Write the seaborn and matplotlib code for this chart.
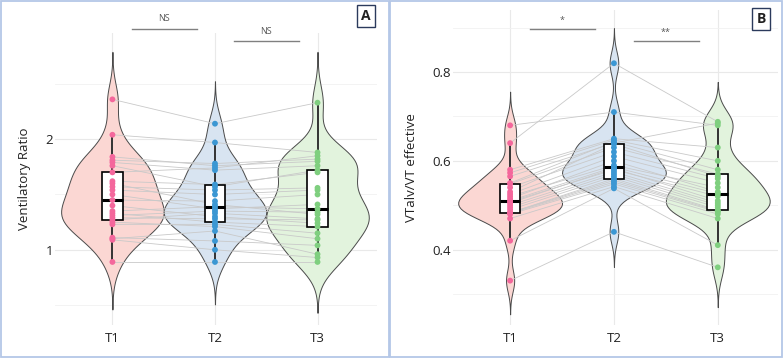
import numpy as np
import pandas as pd
import matplotlib
matplotlib.use("Agg")
import matplotlib.pyplot as plt
import seaborn as sns
from matplotlib.patches import Rectangle
from matplotlib.lines import Line2D

# time points
times = ["T1", "T2", "T3"]

# panel A: ventilatory ratio per subject (same index = same subject)
vr_t1 = [2.36, 2.04, 1.84, 1.81, 1.79, 1.76, 1.70, 1.62, 1.60, 1.57, 1.54, 1.50, 1.45,
         1.40, 1.35, 1.33, 1.31, 1.29, 1.27, 1.25, 1.23, 1.11, 1.10, 1.09, 0.89]
vr_t2 = [2.14, 1.97, 1.76, 1.78, 1.72, 1.57, 1.74, 1.59, 1.41, 1.54, 1.50, 1.37, 1.44,
         1.30, 1.39, 1.25, 1.35, 1.28, 1.33, 1.21, 1.23, 1.08, 1.17, 1.00, 0.89]
vr_t3 = [2.33, 1.88, 1.80, 1.82, 1.76, 1.72, 1.85, 1.70, 1.32, 1.56, 1.54, 1.41, 1.50,
         1.24, 1.37, 1.21, 1.34, 1.27, 1.28, 1.10, 1.15, 1.04, 0.96, 0.93, 0.89]

# panel B: VTalv/VT effective per subject
vt_t1 = [0.68, 0.64, 0.58, 0.573, 0.565, 0.55, 0.548, 0.54, 0.53, 0.525, 0.52, 0.515, 0.51,
         0.508, 0.505, 0.50, 0.495, 0.49, 0.483, 0.483, 0.482, 0.48, 0.47, 0.42, 0.33]
vt_t2 = [0.71, 0.82, 0.65, 0.647, 0.64, 0.643, 0.63, 0.62, 0.638, 0.61, 0.59, 0.60, 0.586,
         0.58, 0.583, 0.575, 0.57, 0.565, 0.56, 0.556, 0.552, 0.548, 0.542, 0.538, 0.44]
vt_t3 = [0.68, 0.688, 0.63, 0.60, 0.685, 0.58, 0.57, 0.56, 0.565, 0.55, 0.54, 0.53, 0.526,
         0.52, 0.51, 0.505, 0.50, 0.495, 0.489, 0.487, 0.485, 0.48, 0.47, 0.41, 0.36]

# significance labels between neighbouring time points
sig_a = ["NS", "NS"]
sig_b = ["*", "**"]

fill_colors = ["#fbd7d3", "#d8e4f1", "#e2f3dd"]
point_colors = ["#f4679c", "#3b97d3", "#7fcf7f"]
frame_color = "#b4c7e7"

plt.rcParams["font.family"] = ["Open Sans", "DejaVu Sans"]


def to_long(v1, v2, v3):
    rows = []
    for t, vals in zip(times, [v1, v2, v3]):
        for sid, v in enumerate(vals):
            rows.append({"subject": sid, "time": t, "value": v})
    return pd.DataFrame(rows)


def draw_panel(ax, df, bw_adjust, ylabel, major, minor, xlim, ylim, sig, sig_y):
    sns.violinplot(data=df, x="time", y="value", hue="time", order=times,
                   hue_order=times, palette=fill_colors, inner=None, cut=3,
                   bw_adjust=bw_adjust, density_norm="area", width=1.0,
                   linewidth=0.7, linecolor="#4a4a4a", saturation=1,
                   legend=False, ax=ax, zorder=1)

    # paired lines between neighbouring time points
    wide = df.pivot(index="subject", columns="time", values="value")
    for _, row in wide.iterrows():
        ax.plot([0, 1, 2], [row["T1"], row["T2"], row["T3"]],
                color="#c9c9c9", lw=0.6, zorder=2)

    sns.boxplot(data=df, x="time", y="value", order=times, width=0.2,
                color="white", linecolor="black", linewidth=1.2,
                showfliers=False, showcaps=False, saturation=1,
                whiskerprops=dict(color="#333333", linewidth=1.4),
                medianprops=dict(color="black", linewidth=2.2),
                ax=ax, zorder=3)

    sns.stripplot(data=df, x="time", y="value", hue="time", order=times,
                  hue_order=times, palette=point_colors, jitter=False,
                  size=4.2, linewidth=0, legend=False, ax=ax, zorder=4)

    ax.set_xlim(*xlim)
    ax.set_ylim(*ylim)
    ax.set_yticks(major)
    ax.set_yticks(minor, minor=True)
    ax.set_facecolor("white")
    ax.grid(True, which="major", color="#e9e9e9", lw=0.8)
    ax.grid(True, which="minor", axis="y", color="#f1f1f1", lw=0.6)
    ax.set_axisbelow(True)
    for s in ax.spines.values():
        s.set_visible(False)
    ax.tick_params(which="both", length=0)
    ax.tick_params(axis="y", labelsize=9.5, colors="#222222", pad=1.5)
    ax.tick_params(axis="x", labelsize=9.5, colors="#222222", pad=5)
    ax.set_xlabel("")
    ax.set_ylabel(ylabel, fontsize=9.5, color="#222222", labelpad=10)

    tr = ax.get_xaxis_transform()
    for i, (lab, (ly, ty)) in enumerate(zip(sig, sig_y)):
        ax.add_line(Line2D([i + 0.19, i + 0.82], [ly, ly], transform=tr,
                           color="#808080", lw=1.0, clip_on=False))
        ax.text(i + 0.5, ty, lab, transform=tr, ha="center", va="center",
                fontsize=6.5, color="#555555", clip_on=False)


fig = plt.figure(figsize=(7.83, 3.58), dpi=100)
ax_a = fig.add_axes([55 / 783, 1 - 325 / 358, 322 / 783, 292 / 358])
ax_b = fig.add_axes([453 / 783, 1 - 325 / 358, 325 / 783, 315 / 358])

draw_panel(ax_a, to_long(vr_t1, vr_t2, vr_t3), 0.82, "Ventilatory Ratio",
           [1, 2], [0.5, 1.5, 2.5], (-0.56, 2.58), (0.32, 2.96), sig_a,
           [(1.014, 1.05), (0.973, 1.006)])
draw_panel(ax_b, to_long(vt_t1, vt_t2, vt_t3), 0.72, "VTalv/VT effective",
           [0.4, 0.6, 0.8], [0.3, 0.5, 0.7, 0.9], (-0.55, 2.58), (0.23, 0.94), sig_b,
           [(0.940, 0.968), (0.902, 0.93)])

# panel letters
fig.text(366 / 783, 1 - 16 / 358, "A", ha="center", va="center", fontsize=10,
         fontweight="bold", color="#222222",
         bbox=dict(boxstyle="square,pad=0.3", fc="white", ec="#2b3a5c", lw=1.0))
fig.text(761 / 783, 1 - 19 / 358, "B", ha="center", va="center", fontsize=10,
         fontweight="bold", color="#222222",
         bbox=dict(boxstyle="square,pad=0.3", fc="white", ec="#2b3a5c", lw=1.0))

# outer frames
fig.patches.append(Rectangle((0.001, 0.002), 388 / 783, 0.995, transform=fig.transFigure,
                             fill=False, ec=frame_color, lw=1.3))
fig.patches.append(Rectangle((390 / 783, 0.002), 392 / 783, 0.995, transform=fig.transFigure,
                             fill=False, ec=frame_color, lw=1.3))

fig.savefig("out.png", dpi=100, facecolor="white")
